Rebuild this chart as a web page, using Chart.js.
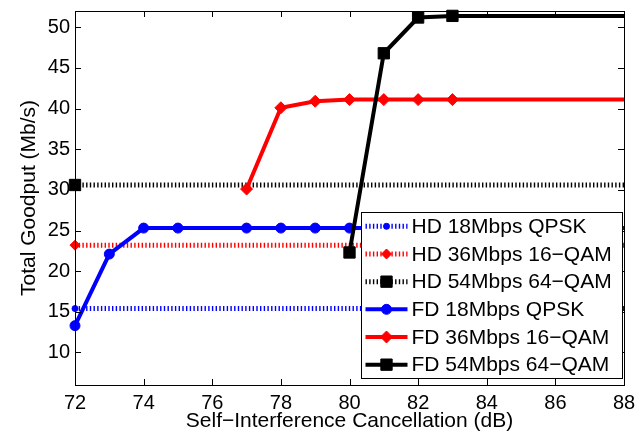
<!DOCTYPE html>
<html>
<head>
<meta charset="utf-8">
<script src="https://cdn.jsdelivr.net/npm/chart.js@4.4.1/dist/chart.umd.min.js"></script>
<style>
  body { margin: 0; background: #fff; }
  canvas { display: block; }
</style>
</head>
<body>
<canvas id="goodput" width="641" height="434"></canvas>
<script>
// values
const xTicks = [72, 74, 76, 78, 80, 82, 84, 86, 88];
const yTicks = [10, 15, 20, 25, 30, 35, 40, 45, 50];

const hdX = [72, 88];
const hdQpsk = [15.4, 15.4];
const hd16qam = [23.2, 23.2];
const hd64qam = [30.6, 30.6];

const fdQpskX = [72, 73, 74, 75, 77, 78, 79, 80, 81, 82, 83, 88];
const fdQpsk = [13.3, 22.1, 25.3, 25.3, 25.3, 25.3, 25.3, 25.3, 25.3, 25.3, 25.3, 25.3];
const fd16qamX = [77, 78, 79, 80, 81, 82, 83, 88];
const fd16qam = [30.1, 40.1, 40.9, 41.1, 41.1, 41.1, 41.1, 41.1];
const fd64qamX = [80, 81, 82, 83, 88];
const fd64qam = [22.3, 46.8, 51.2, 51.4, 51.4];

const labels = [
  "HD 18Mbps QPSK", "HD 36Mbps 16\u2212QAM", "HD 54Mbps 64\u2212QAM",
  "FD 18Mbps QPSK", "FD 36Mbps 16\u2212QAM", "FD 54Mbps 64\u2212QAM"
];

const FONT = "'Liberation Sans', Arial, sans-serif";
const dotted = [1.4, 2.3];

function pts(xs, ys) {
  return xs.map((x, i) => ({x: x, y: ys[i]}));
}
// markers on every point except the closing one at 88
function radii(xs, r) {
  return xs.map((x, i) => i === xs.length - 1 ? 0 : r);
}

function series(label, xs, ys, color, style, r, hd, order) {
  return {
    label: label,
    data: pts(xs, ys),
    borderColor: color,
    backgroundColor: color,
    borderWidth: hd ? 5 : 4,
    borderDash: hd ? dotted : [],
    pointStyle: style,
    pointRadius: radii(xs, r),
    pointBorderWidth: 1,
    pointBackgroundColor: color,
    pointBorderColor: color,
    tension: 0,
    clip: false,
    order: order
  };
}

const datasets = [
  series(labels[0], hdX, hdQpsk, "#0000ff", "circle", 3, true, 6),
  series(labels[1], hdX, hd16qam, "#ff0000", "rectRot", 5, true, 5),
  series(labels[2], hdX, hd64qam, "#000000", "rect", 8, true, 4),
  series(labels[3], fdQpskX, fdQpsk, "#0000ff", "circle", 5, false, 3),
  series(labels[4], fd16qamX, fd16qam, "#ff0000", "rectRot", 6, false, 2),
  series(labels[5], fd64qamX, fd64qam, "#000000", "rect", 8, false, 1)
];

// matlab style box, inward ticks and legend inside the axes
const matlabBox = {
  id: "matlabBox",
  afterDraw(chart) {
    const ctx = chart.ctx;
    const a = chart.chartArea;
    const xs = chart.scales.x, ys = chart.scales.y;
    const tl = 6;
    ctx.save();
    ctx.strokeStyle = "#000";
    ctx.lineWidth = 1;
    ctx.setLineDash([]);
    ctx.beginPath();
    xTicks.forEach(v => {
      const px = Math.round(xs.getPixelForValue(v)) + 0.5;
      ctx.moveTo(px, a.bottom); ctx.lineTo(px, a.bottom - tl);
      ctx.moveTo(px, a.top); ctx.lineTo(px, a.top + tl);
    });
    yTicks.forEach(v => {
      const py = Math.round(ys.getPixelForValue(v)) + 0.5;
      ctx.moveTo(a.left, py); ctx.lineTo(a.left + tl, py);
      ctx.moveTo(a.right, py); ctx.lineTo(a.right - tl, py);
    });
    ctx.stroke();
    ctx.strokeRect(Math.round(a.left) + 0.5, Math.round(a.top) + 0.5,
      Math.round(a.right - a.left), Math.round(a.bottom - a.top));

    // legend
    const bw = 261, bh = 166;
    const bx = Math.round(a.right - 2 - bw) + 0.5;
    const by = Math.round(a.bottom - 7 - bh) + 0.5;
    ctx.fillStyle = "#fff";
    ctx.fillRect(bx, by, bw, bh);
    ctx.strokeStyle = "#000";
    ctx.lineWidth = 1;
    ctx.strokeRect(bx, by, bw, bh);
    const rowH = bh / 6;
    ctx.font = "21px " + FONT;
    ctx.textBaseline = "middle";
    ctx.textAlign = "left";
    datasets.forEach((ds, i) => {
      const cy = by + rowH * (i + 0.5);
      const x0 = bx + 4, x1 = bx + 46;
      ctx.strokeStyle = ds.borderColor;
      ctx.lineWidth = ds.borderWidth;
      ctx.setLineDash(ds.borderDash);
      ctx.beginPath();
      ctx.moveTo(x0, cy); ctx.lineTo(x1, cy);
      ctx.stroke();
      ctx.setLineDash([]);
      ctx.fillStyle = ds.borderColor;
      ctx.lineWidth = 1;
      Chart.helpers.drawPoint(ctx, {
        pointStyle: ds.pointStyle, rotation: 0,
        radius: ds.pointRadius[0], borderWidth: 1
      }, (x0 + x1) / 2, cy);
      ctx.fillStyle = "#000";
      ctx.fillText(ds.label, bx + 50, cy + 1);
    });
    ctx.restore();
  }
};

new Chart(document.getElementById("goodput"), {
  type: "line",
  data: { datasets: datasets },
  plugins: [matlabBox],
  options: {
    responsive: false,
    animation: false,
    devicePixelRatio: 1,
    layout: { padding: { top: 11, right: 17, left: 0, bottom: 0 } },
    plugins: {
      legend: { display: false },
      tooltip: { enabled: false }
    },
    scales: {
      x: {
        type: "linear",
        min: 72,
        max: 88,
        afterBuildTicks: s => { s.ticks = xTicks.map(v => ({value: v})); },
        afterFit: s => { s.height = 49; s.paddingLeft = 0; s.paddingRight = 0; },
        grid: { display: false, drawTicks: false },
        border: { display: false },
        ticks: { color: "#000", padding: 6, maxRotation: 0, font: { family: FONT, size: 20 } },
        title: {
          display: true,
          text: "Self\u2212Interference Cancellation (dB)",
          color: "#000",
          padding: { top: 0, bottom: 0 },
          font: { family: FONT, size: 21 }
        }
      },
      y: {
        type: "linear",
        min: 6,
        max: 52,
        afterBuildTicks: s => { s.ticks = yTicks.map(v => ({value: v})); },
        afterFit: s => { s.width = 75; s.paddingTop = 0; s.paddingBottom = 0; },
        grid: { display: false, drawTicks: false },
        border: { display: false },
        ticks: { color: "#000", padding: 5, font: { family: FONT, size: 20 } },
        title: {
          display: true,
          text: "Total Goodput (Mb/s)",
          color: "#000",
          padding: { top: 17, bottom: 0 },
          font: { family: FONT, size: 21 }
        }
      }
    }
  }
});
</script>
</body>
</html>
